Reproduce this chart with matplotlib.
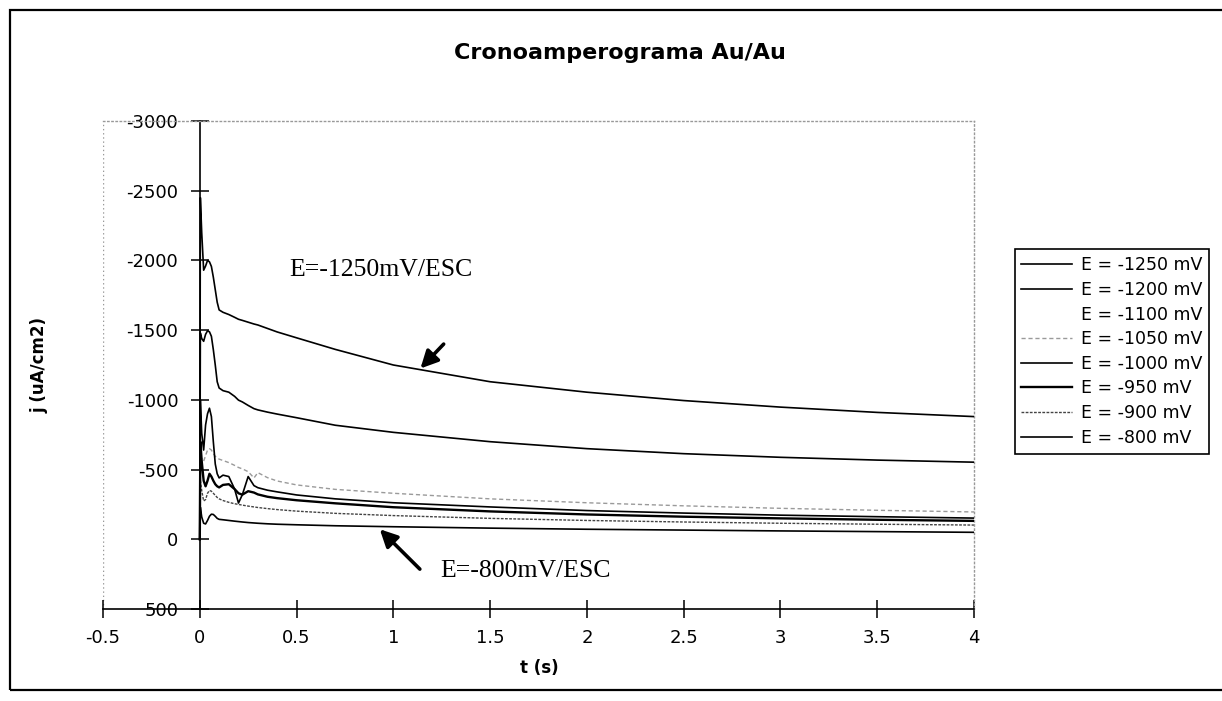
import matplotlib
matplotlib.use("Agg")
import matplotlib.pyplot as plt
import numpy as np
from matplotlib.patches import Rectangle
from matplotlib.ticker import FuncFormatter

plt.rcParams['axes.unicode_minus'] = False
plt.rcParams['font.family'] = ['DejaVu Sans']

# ---------------- data ----------------
t = [0, 0.003, 0.01, 0.02, 0.03, 0.04, 0.05, 0.06, 0.07, 0.08, 0.09, 0.10,
     0.12, 0.15, 0.18, 0.20, 0.22, 0.25, 0.28, 0.30, 0.35, 0.40, 0.50, 0.70,
     1.0, 1.5, 2.0, 2.5, 3.0, 3.5, 4.0]

j_1250 = [0, -2450, -2200, -1930, -1960, -2000, -1990, -1957, -1880, -1790, -1700, -1645,
          -1628, -1612, -1592, -1578, -1570, -1557, -1544, -1537, -1512, -1487, -1445, -1362,
          -1250, -1130, -1055, -995, -948, -910, -880]
j_1200 = [0, -1480, -1440, -1420, -1470, -1495, -1488, -1456, -1360, -1250, -1130, -1085,
          -1066, -1055, -1025, -998, -985, -960, -937, -928, -912, -898, -872, -818,
          -767, -700, -650, -614, -588, -568, -553]
j_1100 = [0, -800, -760, -720, -750, -780, -800, -790, -770, -740, -720, -700,
          -680, -660, -640, -620, -610, -590, -575, -565, -545, -530, -505, -465,
          -420, -375, -340, -315, -295, -280, -268]
j_1050 = [0, -600, -580, -560, -600, -640, -650, -640, -615, -595, -582, -575,
          -565, -550, -530, -515, -505, -485, -440, -478, -442, -418, -390, -358,
          -330, -290, -262, -240, -222, -208, -196]
j_1000 = [0, -1000, -760, -640, -820, -900, -940, -880, -700, -540, -470, -440,
          -460, -450, -360, -260, -320, -450, -385, -370, -352, -340, -318, -290,
          -262, -232, -206, -188, -173, -162, -152]
j_950 = [0, -700, -560, -420, -380, -420, -470, -450, -420, -395, -380, -372,
         -390, -395, -360, -330, -320, -345, -335, -322, -305, -295, -280, -258,
         -230, -200, -178, -162, -150, -140, -132]
j_900 = [0, -420, -350, -275, -285, -330, -350, -345, -330, -315, -300, -290,
         -278, -265, -255, -250, -245, -238, -232, -228, -220, -213, -202, -186,
         -170, -150, -135, -124, -115, -108, -102]
j_800 = [0, -230, -160, -115, -110, -135, -165, -180, -178, -165, -150, -143,
         -140, -135, -130, -127, -124, -120, -117, -115, -111, -108, -104, -97,
         -90, -80, -72, -66, -60, -55, -50]

labels = ["E = -1250 mV", "E = -1200 mV", "E = -1100 mV", "E = -1050 mV",
          "E = -1000 mV", "E = -950 mV", "E = -900 mV", "E = -800 mV"]
series = [j_1250, j_1200, j_1100, j_1050, j_1000, j_950, j_900, j_800]

x_ticks = [-0.5, 0, 0.5, 1, 1.5, 2, 2.5, 3, 3.5, 4]
y_ticks = [-3000, -2500, -2000, -1500, -1000, -500, 0, 500]

title = "Cronoamperograma Au/Au"
xlabel = "t (s)"
ylabel = "j (uA/cm2)"
note_1250 = "E=-1250mV/ESC"
note_800 = "E=-800mV/ESC"

# ---------------- styles ----------------
styles = [
    dict(color="black", lw=1.2, ls="-", zorder=3),
    dict(color="black", lw=1.2, ls="-", zorder=3),
    dict(color="white", lw=1.0, ls="-", zorder=1),
    dict(color="#9a9a9a", lw=1.0, ls=(0, (3, 2)), zorder=2),
    dict(color="black", lw=1.2, ls="-", zorder=3),
    dict(color="black", lw=1.7, ls="-", zorder=3),
    dict(color="#444444", lw=1.0, ls=(0, (2, 1)), zorder=2),
    dict(color="black", lw=1.2, ls="-", zorder=3),
]

W, H = 1222, 701
fig = plt.figure(figsize=(W / 100, H / 100), dpi=100)
fig.patch.set_facecolor("white")

ax = fig.add_axes([103 / W, 1 - 609 / H, 871 / W, 488 / H])

handles = []
for vals, lab, st in zip(series, labels, styles):
    h, = ax.plot(t, vals, label=lab, **st)
    handles.append(h)

ax.set_xlim(-0.5, 4)
ax.set_ylim(500, -3000)
ax.set_xticks(x_ticks)
ax.set_yticks(y_ticks)
fmt = FuncFormatter(lambda v, p: "%g" % v)
ax.xaxis.set_major_formatter(fmt)
ax.yaxis.set_major_formatter(fmt)

ax.spines["left"].set_position(("data", 0))
ax.spines["left"].set_linewidth(1.2)
ax.spines["bottom"].set_linewidth(1.2)
for s in ("top", "right"):
    ax.spines[s].set_color("#999999")
    ax.spines[s].set_linestyle((0, (1, 2)))
    ax.spines[s].set_linewidth(1.0)
ax.axvline(-0.5, color="#999999", ls=(0, (1, 2)), lw=1.0, zorder=0)

ax.tick_params(axis="both", direction="inout", length=13, width=1.1,
               labelsize=13, colors="black")
ax.tick_params(axis="y", pad=9)
ax.tick_params(axis="x", pad=8)

# annotations
ax.text(0.46, -1933, note_1250, family="Liberation Serif", fontsize=18.5,
        va="center", ha="left")
ax.text(1.24, 226, note_800, family="Liberation Serif", fontsize=18.5,
        va="center", ha="left")
ax.annotate("", xy=(1.14, -1225), xytext=(1.26, -1400),
            arrowprops=dict(arrowstyle="-|>", lw=2.6, color="black",
                            mutation_scale=26, shrinkA=0, shrinkB=0))
ax.annotate("", xy=(0.93, -72), xytext=(1.137, 214),
            arrowprops=dict(arrowstyle="-|>", lw=2.6, color="black",
                            mutation_scale=26, shrinkA=0, shrinkB=0))

# titles/labels
fig.text(620 / W, 1 - 53 / H, title, ha="center", va="center",
         fontsize=16, fontweight="bold")
fig.text(539 / W, 1 - 668 / H, xlabel, ha="center", va="center",
         fontsize=12, fontweight="bold")
fig.text(40 / W, 1 - 365 / H, ylabel, ha="center", va="center",
         rotation=90, fontsize=12, fontweight="bold")

leg = fig.legend(handles=handles, labels=labels, loc="center",
                 bbox_to_anchor=(1111.7 / W, 1 - 351.5 / H),
                 bbox_transform=fig.transFigure, fontsize=12.5,
                 handlelength=2.9, handletextpad=0.5, labelspacing=0.38,
                 borderpad=0.4, fancybox=False, shadow=False, framealpha=1)
leg.get_frame().set_edgecolor("black")
leg.get_frame().set_linewidth(1.2)

# chart area border
fig.add_artist(Rectangle((10 / W, 11 / H), 1.5, 1 - 21 / H,
                         transform=fig.transFigure, fill=False,
                         lw=1.6, edgecolor="black"))

fig.savefig("out.png", dpi=100, facecolor="white")
